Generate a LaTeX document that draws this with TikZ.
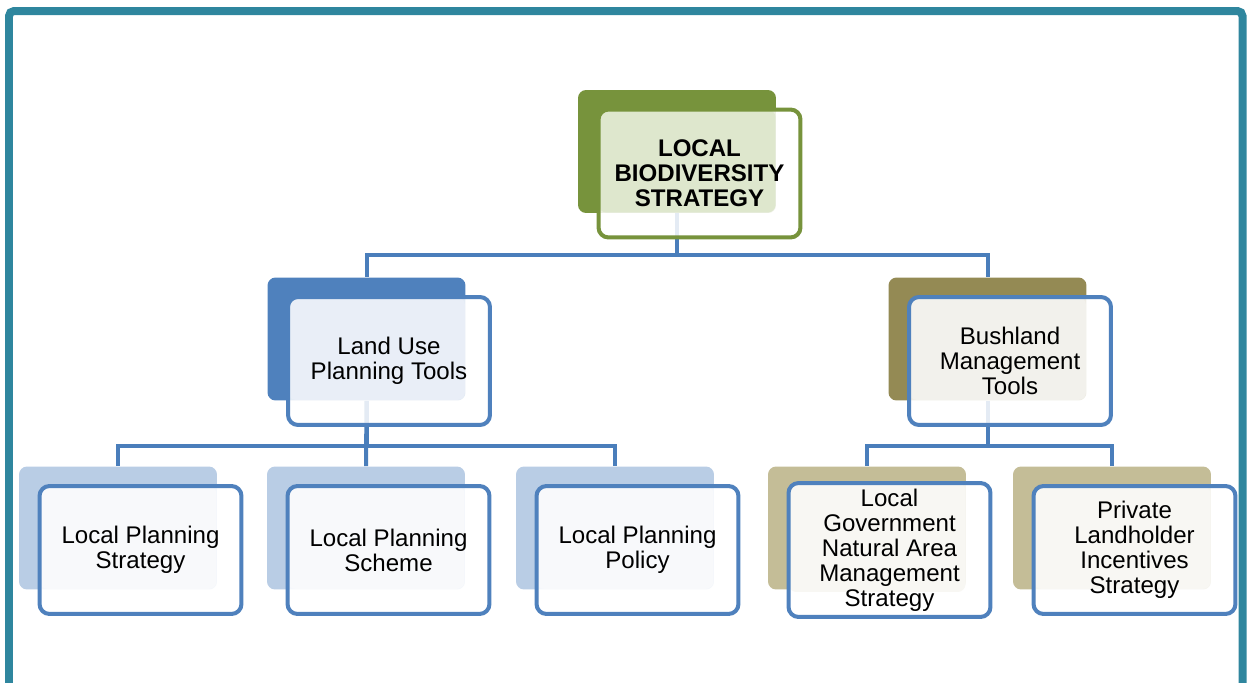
\documentclass[tikz,border=0pt]{standalone}
\usepackage{fontspec}
\setmainfont{Liberation Sans}
\usepackage{tikz}
\usepackage{xcolor}
\definecolor{frameteal}{RGB}{47,134,158}
\definecolor{linkblue}{RGB}{74,126,187}
\definecolor{topgreen}{RGB}{119,147,60}
\definecolor{toplight}{RGB}{222,231,205}
\definecolor{midblue}{RGB}{79,129,189}
\definecolor{midlight}{RGB}{233,238,247}
\definecolor{lowblue}{RGB}{185,205,229}
\definecolor{lowlight}{RGB}{248,249,251}
\definecolor{midolive}{RGB}{148,138,84}
\definecolor{olivelight}{RGB}{242,241,236}
\definecolor{lowolive}{RGB}{196,189,151}
\definecolor{lowolivelight}{RGB}{248,247,243}

\begin{document}
\begin{tikzpicture}[
    x=0.02cm, y=-0.02cm,
    back/.style={rounded corners=0.16cm, minimum width=3.96cm, minimum height=2.46cm},
    front/.style={draw=midblue, line width=0.08cm, rounded corners=0.2cm, fill=white, fill opacity=0.85,
        text opacity=1, minimum width=4.04cm, minimum height=2.56cm, align=center,
        font=\fontsize{13.7}{14.2}\selectfont},
    lightfill/.style={path picture={\fill[#1, fill opacity=1, rounded corners=0.16cm]
        (path picture bounding box.north west) rectangle
        ([xshift=-0.5cm, yshift=0.5cm]path picture bounding box.south east);}},
    link/.style={draw=linkblue, line width=0.08cm},
    frame/.style={draw=frameteal, line width=0.16cm, rounded corners=0.1cm}
]
    \useasboundingbox (0,0) rectangle (1249,683);
    \draw[frame] (9,683) -- (9,11) -- (1242.5,11) -- (1242.5,683);

    % Back boxes
    \node[back, fill=topgreen] (strat) at (677,151.5) {};
    \node[back, fill=midblue] (landuse) at (366.5,339) {};
    \node[back, fill=midolive] (bush) at (987.5,339) {};
    \node[back, fill=lowblue] (lpstrat) at (118,528) {};
    \node[back, fill=lowblue] (lpscheme) at (366,528) {};
    \node[back, fill=lowblue] (lppolicy) at (615,528) {};
    \node[back, fill=lowolive] (lgnams) at (867,528) {};
    \node[back, fill=lowolive] (plis) at (1112,528) {};

    % Links
    \draw[link] (strat.south) -- ++(0,42) -| (landuse.north);
    \draw[link] (strat.south) -- ++(0,42) -| (bush.north);
    \draw[link] (landuse.south) -- ++(0,45) -| (lpstrat.north);
    \draw[link] (landuse.south) -- (lpscheme.north);
    \draw[link] (landuse.south) -- ++(0,45) -| (lppolicy.north);
    \draw[link] (bush.south) -- ++(0,45) -| (lgnams.north);
    \draw[link] (bush.south) -- ++(0,45) -| (plis.north);

    % Front boxes
    \node[front, draw=topgreen, lightfill=toplight, font=\fontsize{13.7}{14.2}\selectfont\bfseries]
        (stratf) at ([shift={(22.5,22)}]strat) {LOCAL\\BIODIVERSITY\\STRATEGY};
    \node[front, lightfill=midlight] (landusef) at ([shift={(22.5,22)}]landuse) {Land Use\\Planning Tools};
    \node[front, lightfill=olivelight] (bushf) at ([shift={(22.5,22)}]bush) {Bushland\\Management\\Tools};
    \node[front, lightfill=lowlight] (lpstratf) at ([shift={(22.5,22)}]lpstrat) {Local Planning\\Strategy};
    \node[front, lightfill=lowlight] (lpschemef) at ([shift={(22.5,22)}]lpscheme) {Local Planning\\Scheme};
    \node[front, lightfill=lowlight] (lppolicyf) at ([shift={(22.5,22)}]lppolicy) {Local Planning\\Policy};
    \node[front, lightfill=lowolivelight] (lgnamsf) at ([shift={(22.5,22)}]lgnams)
        {Local\\Government\\Natural Area\\Management\\Strategy};
    \node[front, lightfill=lowolivelight] (plisf) at ([shift={(22.5,22)}]plis)
        {Private\\Landholder\\Incentives\\Strategy};
\end{tikzpicture}
\end{document}
